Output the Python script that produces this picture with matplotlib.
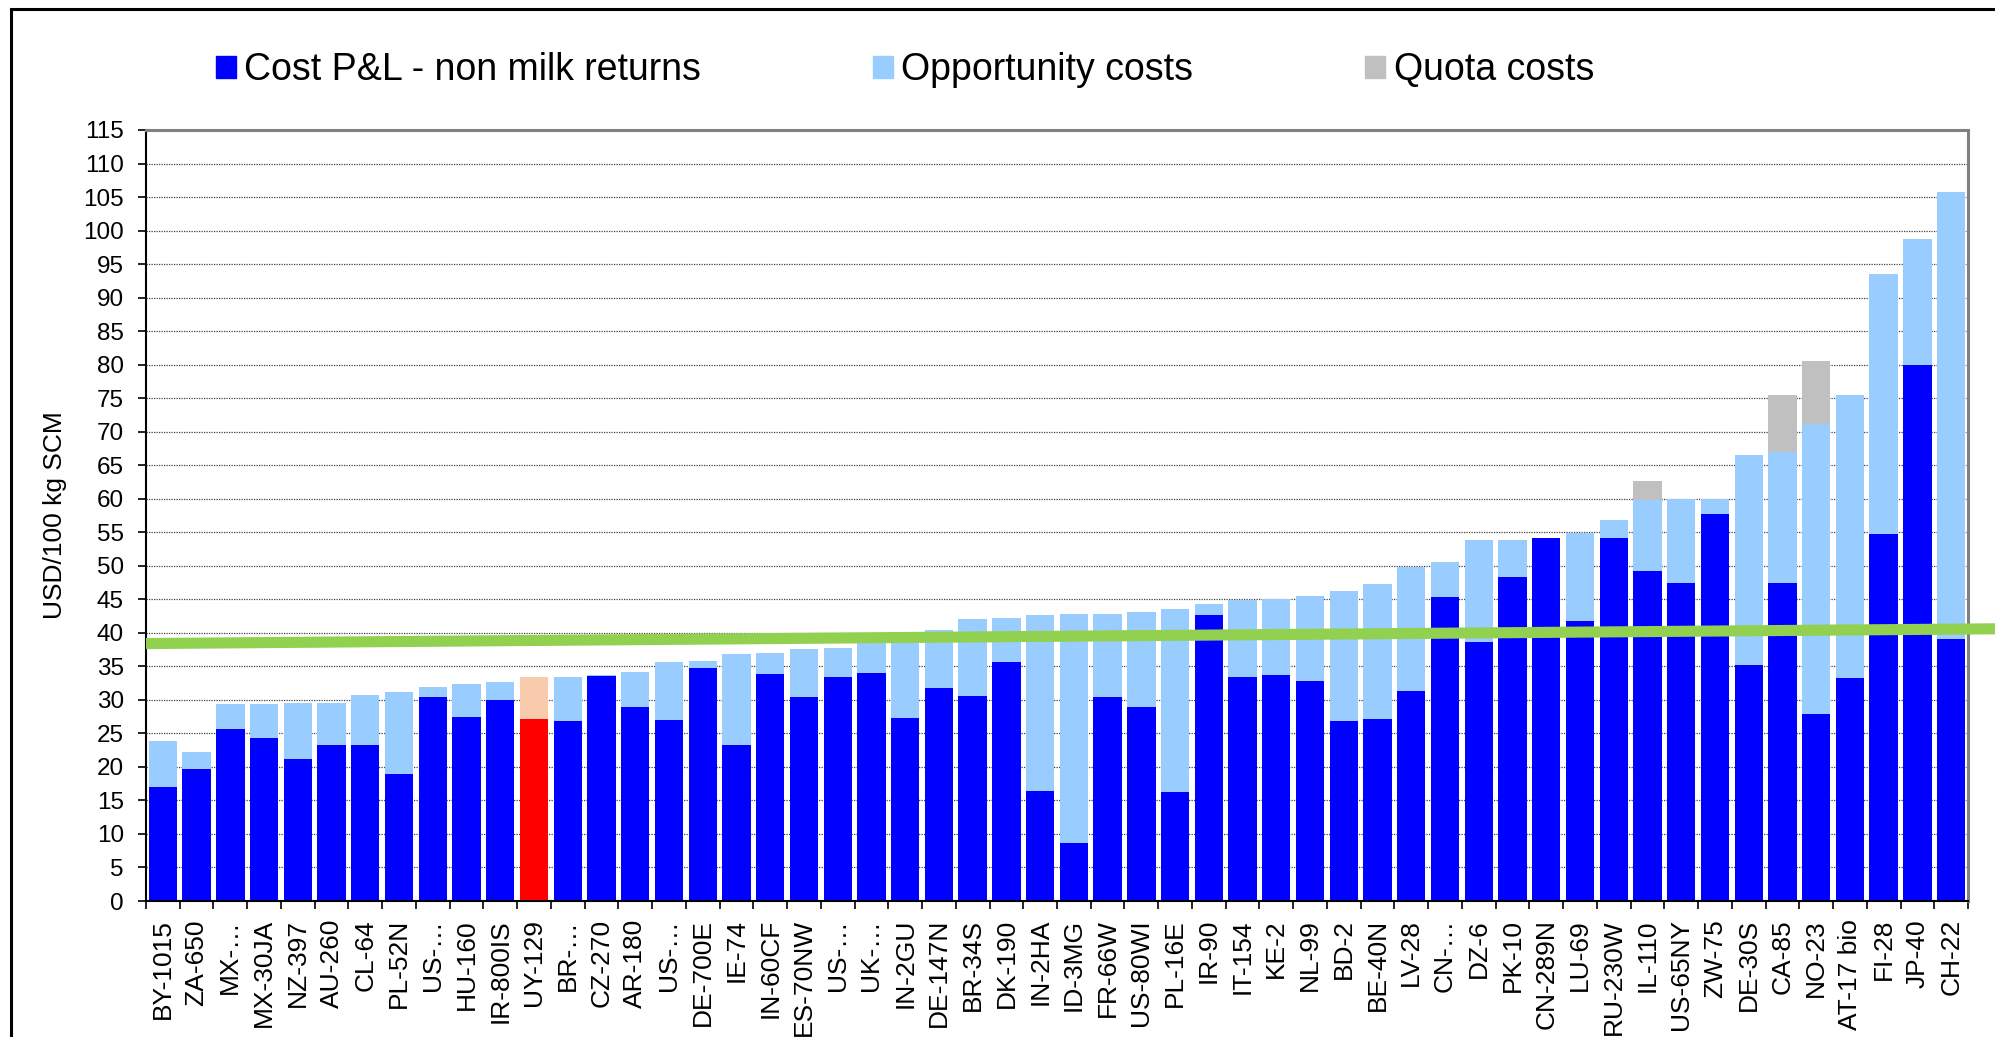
import numpy as np
import matplotlib
matplotlib.use("Agg")
import matplotlib.pyplot as plt
from matplotlib.patches import Patch, Rectangle

plt.rcParams['font.family'] = ['Liberation Sans', 'DejaVu Sans']

# farm labels, sorted by total cost
farms = ['BY-1015', 'ZA-650', 'MX-…', 'MX-30JA', 'NZ-397', 'AU-260', 'CL-64', 'PL-52N',
         'US-…', 'HU-160', 'IR-800IS', 'UY-129', 'BR-…', 'CZ-270', 'AR-180', 'US-…',
         'DE-700E', 'IE-74', 'IN-60CF', 'ES-70NW', 'US-…', 'UK-…', 'IN-2GU', 'DE-147N',
         'BR-34S', 'DK-190', 'IN-2HA', 'ID-3MG', 'FR-66W', 'US-80WI', 'PL-16E', 'IR-90',
         'IT-154', 'KE-2', 'NL-99', 'BD-2', 'BE-40N', 'LV-28', 'CN-…', 'DZ-6', 'PK-10',
         'CN-289N', 'LU-69', 'RU-230W', 'IL-110', 'US-65NY', 'ZW-75', 'DE-30S', 'CA-85',
         'NO-23', 'AT-17 bio', 'FI-28', 'JP-40', 'CH-22']

# USD/100 kg SCM
cost_pl = [17.0, 19.7, 25.6, 24.3, 21.2, 23.2, 23.2, 19.0, 30.4, 27.4, 30.0, 27.2, 26.9,
           33.5, 29.0, 27.0, 34.8, 23.2, 33.9, 30.4, 33.4, 34.0, 27.3, 31.8, 30.6, 35.7,
           16.4, 8.7, 30.4, 29.0, 16.3, 42.7, 33.4, 33.7, 32.8, 26.9, 27.2, 31.3, 45.4,
           38.6, 48.4, 54.2, 41.7, 54.2, 49.2, 47.4, 57.7, 35.2, 47.4, 27.9, 33.2, 54.8,
           80.0, 39.1]
opportunity = [6.9, 2.5, 3.8, 5.1, 8.3, 6.4, 7.5, 12.1, 1.5, 5.0, 2.7, 6.2, 6.5, 0.2, 5.2,
               8.6, 1.0, 13.6, 3.1, 7.2, 4.4, 4.7, 12.8, 8.6, 11.4, 6.5, 26.2, 34.1, 12.4,
               14.1, 27.3, 1.6, 11.5, 11.3, 12.7, 19.4, 20.1, 18.5, 5.1, 15.2, 5.5, 0.0,
               13.2, 2.7, 10.6, 12.5, 2.2, 31.3, 19.5, 43.2, 42.2, 38.7, 18.7, 66.6]
quota = [0.0] * 44 + [2.8, 0.0, 0.0, 0.0, 8.6, 9.4, 0.0, 0.0, 0.0, 0.0]

highlight = 'UY-129'

# green reference line: value at the left axis edge and at the right figure edge
line_start = 38.4
line_end = 40.6

c_cost = '#0000FF'
c_opp = '#99CCFF'
c_quota = '#C0C0C0'
c_cost_hl = '#FF0000'
c_opp_hl = '#F8CBAD'

x = np.arange(len(farms))
cost_pl = np.array(cost_pl)
opportunity = np.array(opportunity)
quota = np.array(quota)
cost_colors = [c_cost_hl if f == highlight else c_cost for f in farms]
opp_colors = [c_opp_hl if f == highlight else c_opp for f in farms]

fig = plt.figure(figsize=(19.95, 10.37), dpi=100)
ax = fig.add_axes([146 / 1995, 1 - 901 / 1037, (1968 - 146) / 1995, (901 - 130) / 1037])

w = 0.84
ax.bar(x, cost_pl, w, color=cost_colors, zorder=2)
ax.bar(x, opportunity, w, bottom=cost_pl, color=opp_colors, zorder=2)
ax.bar(x, quota, w, bottom=cost_pl + opportunity, color=c_quota, zorder=2)

ax.set_xlim(-0.5, len(farms) - 0.5)
ax.set_ylim(0, 115)
ax.set_yticks(np.arange(0, 116, 5))
ax.tick_params(axis='y', labelsize=17.5, length=6, width=1.2, pad=10)

ax.set_xticks(x)
ax.set_xticklabels(farms, rotation=90, fontsize=19, va='top', ha='center')
ax.set_xticks(np.arange(-0.5, len(farms), 1), minor=True)
ax.tick_params(axis='x', which='major', length=0, pad=13)
ax.tick_params(axis='x', which='minor', length=6, width=1.2)

ax.set_axisbelow(True)
ax.yaxis.grid(True, color='#404040', linewidth=0.9, linestyle=(0, (1, 1)))

for s in ['left', 'bottom']:
    ax.spines[s].set_color('black')
    ax.spines[s].set_linewidth(1.5)
for s in ['top', 'right']:
    ax.spines[s].set_color('#808080')
    ax.spines[s].set_linewidth(2.2)

ax.set_ylabel('USD/100 kg SCM', fontsize=19)
ax.yaxis.set_label_coords((67 - 146) / 1822, 0.5)

# green line runs from the y axis out to the figure edge
x_end = ax.transData.inverted().transform(fig.transFigure.transform((1.0, 0.0)))[0]
ax.plot([-0.5, x_end], [line_start, line_end], color='#92D050', linewidth=8,
        solid_capstyle='butt', clip_on=False, zorder=5)

handles = [Patch(color=c_cost), Patch(color=c_opp), Patch(color=c_quota)]
fig.legend(handles, ['Cost P&L - non milk returns', 'Opportunity costs', 'Quota costs'],
           loc='center left', bbox_to_anchor=(216 / 1995, 1 - 70 / 1037), ncol=3,
           frameon=False, fontsize=27, handlelength=0.53, handleheight=0.51,
           handletextpad=0.22, columnspacing=4.59, borderpad=0, borderaxespad=0)

# outer frame
fig.patches.append(Rectangle((10.5 / 1995, -0.1), 1.2, 1 - 8.5 / 1037 + 0.1,
                             transform=fig.transFigure, fill=False, ec='black', lw=2.2))

fig.savefig('out.png', dpi=100)
